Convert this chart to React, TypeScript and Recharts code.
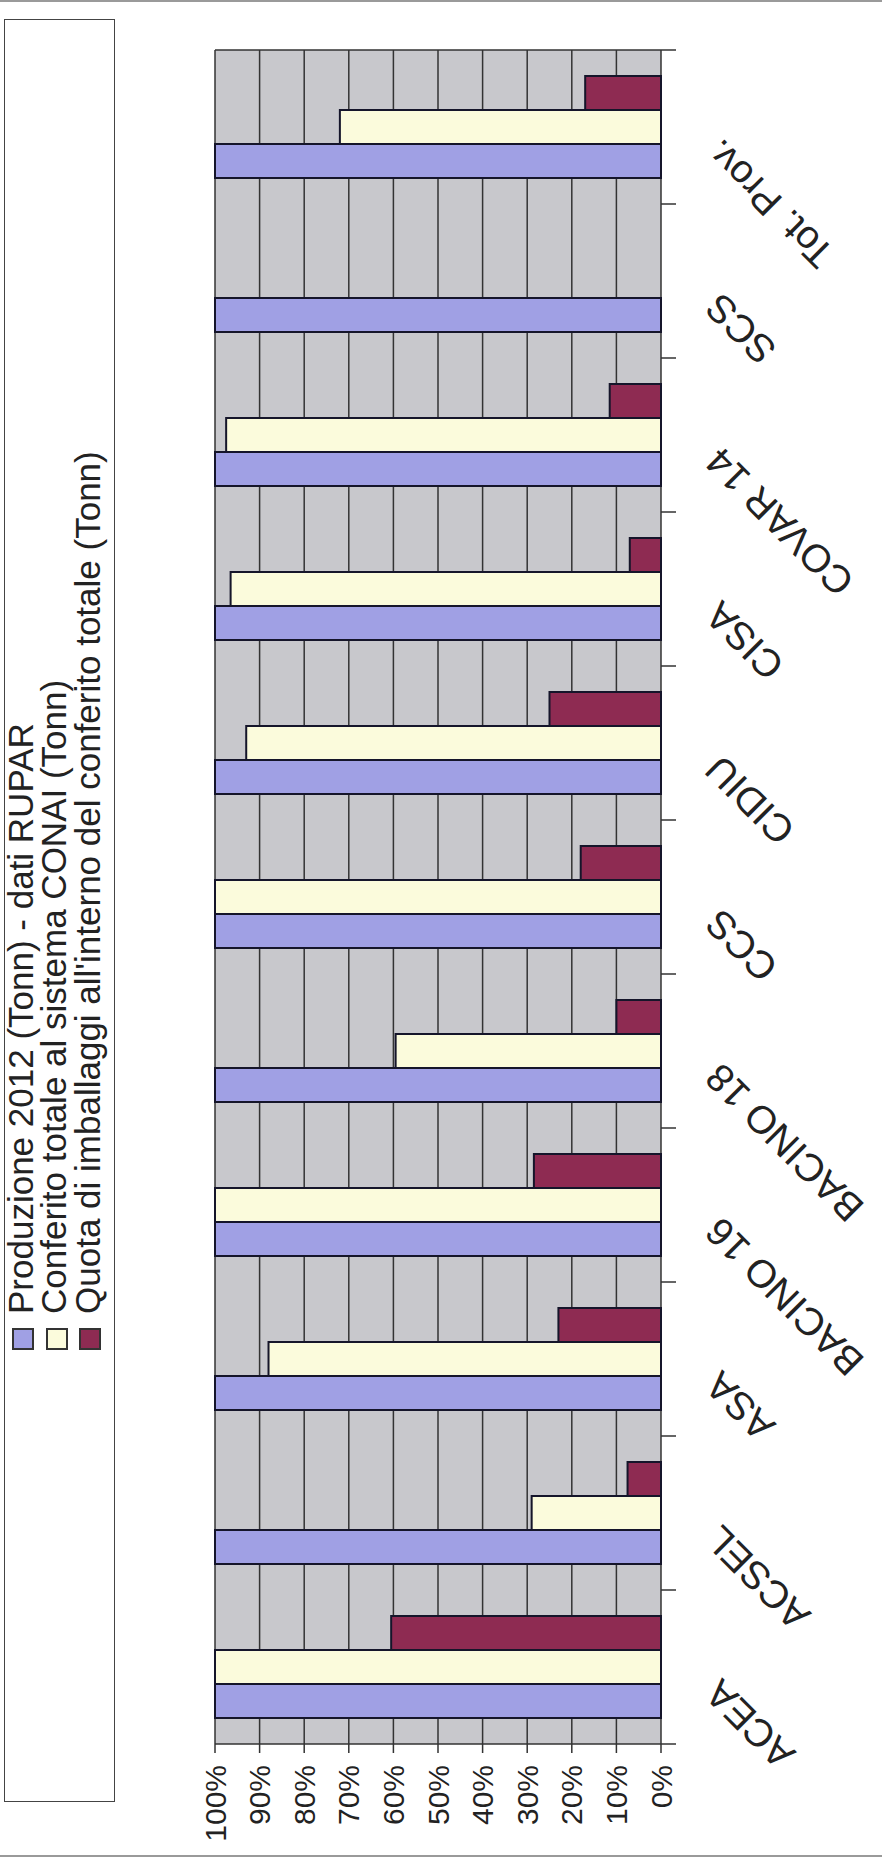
import React from 'react';
import { BarChart, Bar, XAxis, YAxis, CartesianGrid, Legend } from 'recharts';

const categories = ['ACEA', 'ACSEL', 'ASA', 'BACINO 16', 'BACINO 18', 'CCS', 'CIDIU', 'CISA', 'COVAR 14', 'SCS', 'Tot. Prov.'];
const produzione = [100, 100, 100, 100, 100, 100, 100, 100, 100, 100, 100];
const conferito = [100, 29, 88, 100, 59.5, 100, 93, 96.5, 97.5, null, 72];
const quota = [60.5, 7.5, 23, 28.5, 10, 18, 25, 7, 11.5, null, 17];
const valueTicks = [0, 10, 20, 30, 40, 50, 60, 70, 80, 90, 100];
const seriesNames = [
  'Produzione 2012 (Tonn) - dati RUPAR',
  'Conferito totale al sistema CONAI (Tonn)',
  "Quota di imballaggi all'interno del conferito totale (Tonn)",
];
const seriesColors = ['#a0a0e4', '#fbfbdc', '#8e2b52'];

const data = categories.map((c, i) => ({
  name: c,
  produzione: produzione[i],
  conferito: conferito[i],
  quota: quota[i],
}));

const FONT = "'Liberation Sans', Arial, Helvetica, sans-serif";
const W = 1860;
const H = 882;
const M = { top: 215, right: 50, left: 0, bottom: 0 };
const Y_W = 116;
const X_H = 221;
const PLOT_W = W - M.left - Y_W - M.right;
const HALF = PLOT_W / categories.length / 2;

const CategoryTick = (props: any) => {
  const { x, y, payload, index } = props;
  const last = index === categories.length - 1;
  return (
    <g>
      <line x1={x - HALF} x2={x - HALF} y1={y} y2={y + 15} stroke="#333" strokeWidth={1.5} />
      {last && <line x1={x + HALF} x2={x + HALF} y1={y} y2={y + 15} stroke="#333" strokeWidth={1.5} />}
      <g transform={`translate(${x - 30},${y + 41}) rotate(-45)`}>
        <text textAnchor="end" dy="0.72em" fontSize={39} fill="#222" fontFamily={FONT}>
          {payload.value}
        </text>
      </g>
    </g>
  );
};

const renderLegend = () => (
  <div
    style={{
      position: 'relative',
      width: 1783,
      height: 111,
      border: '1.5px solid #444',
      boxSizing: 'border-box',
      fontFamily: FONT,
      background: '#fff',
    }}
  >
    {seriesNames.map((n, i) => (
      <React.Fragment key={i}>
        <div
          style={{
            position: 'absolute',
            left: 451,
            top: 7 + 33.5 * i,
            width: 22,
            height: 22,
            background: seriesColors[i],
            border: '2px solid #333',
            boxSizing: 'border-box',
          }}
        />
        <div
          style={{
            position: 'absolute',
            left: 487,
            top: -2.5 + 33.5 * i,
            fontSize: 35,
            lineHeight: '35px',
            whiteSpace: 'nowrap',
            color: '#222',
          }}
        >
          {n}
        </div>
      </React.Fragment>
    ))}
  </div>
);

export default function App() {
  return (
    <div style={{ position: 'absolute', left: 0, top: 0, width: 882, height: 1860, overflow: 'hidden', background: '#fff' }}>
      <div
        style={{
          position: 'absolute',
          left: 0,
          top: 0,
          width: W,
          height: H,
          transformOrigin: '0 0',
          transform: `translate(0px, ${W}px) rotate(-90deg)`,
        }}
      >
        <div style={{ position: 'absolute', left: 3, top: 0, width: 2, height: H, background: '#9a9a9a' }} />
        <div style={{ position: 'absolute', left: W - 2, top: 0, width: 2, height: H, background: '#9a9a9a' }} />
        <div style={{ position: 'absolute', left: 0, top: 0 }}>
          <BarChart
            width={W}
            height={H}
            data={data}
            margin={M}
            barCategoryGap={26}
            barGap={0}
            style={{ fontFamily: FONT }}
          >
            <CartesianGrid
              fill="#c8c8cc"
              fillOpacity={1}
              stroke="#333"
              strokeWidth={1.5}
              horizontal={true}
              vertical={true}
              verticalCoordinatesGenerator={({ offset }: any) => [offset.left, offset.left + offset.width]}
            />
            <XAxis
              dataKey="name"
              height={X_H}
              interval={0}
              tickSize={0}
              tickMargin={0}
              tickLine={false}
              axisLine={false}
              tick={<CategoryTick />}
            />
            <YAxis
              width={Y_W}
              domain={[0, 100]}
              ticks={valueTicks}
              tickFormatter={(v: number) => `${v}%`}
              tickSize={9}
              tickMargin={12}
              axisLine={false}
              tickLine={{ stroke: '#333', strokeWidth: 1.5 }}
              tick={{ fontSize: 30, fill: '#222', fontFamily: FONT }}
            />
            <Legend
              layout="vertical"
              align="center"
              verticalAlign="middle"
              wrapperStyle={{ left: 58, top: 4, width: 1783, height: 111 }}
              content={renderLegend}
            />
            <Bar dataKey="produzione" name={seriesNames[0]} fill={seriesColors[0]} stroke="#15152a" strokeWidth={2} isAnimationActive={false} />
            <Bar dataKey="conferito" name={seriesNames[1]} fill={seriesColors[1]} stroke="#15152a" strokeWidth={2} isAnimationActive={false} />
            <Bar dataKey="quota" name={seriesNames[2]} fill={seriesColors[2]} stroke="#15152a" strokeWidth={2} isAnimationActive={false} />
          </BarChart>
        </div>
      </div>
    </div>
  );
}
